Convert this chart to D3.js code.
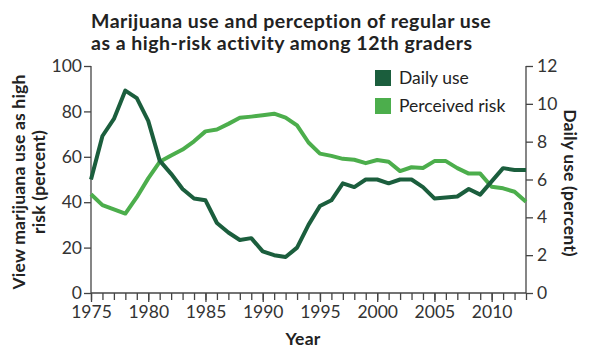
<!DOCTYPE html>
<html lang="en">
  <head>
    <meta charset="UTF-8" />
    <title>Marijuana use and perception</title>
    <script src="https://cdnjs.cloudflare.com/ajax/libs/d3/7.8.5/d3.min.js"></script>
    <style>
      body {
        margin: 0;
        background: #fff;
        font-family: Lato, 'Open Sans', sans-serif;
      }
      .tick text {
        font: 17.5px Lato, sans-serif;
        fill: #333;
      }
      .domain,
      .tick line {
        stroke: #444;
        stroke-width: 1.3px;
      }
      .line {
        fill: none;
        stroke-width: 4px;
        stroke-linejoin: round;
      }
      .label {
        font: bold 17.5px Lato, sans-serif;
        letter-spacing: 0.2px;
        fill: #222;
      }
    </style>
  </head>
  <body>
    <svg width="600" height="353"></svg>
    <script>
      // Data
      const years = d3.range(1975, 2014);
      const dailyUse = [
        6.0, 8.3, 9.2, 10.7, 10.3, 9.1, 7.0, 6.3, 5.5, 5.0, 4.9, 3.7, 3.2, 2.8, 2.9, 2.2, 2.0,
        1.9, 2.4, 3.6, 4.6, 4.9, 5.8, 5.6, 6.0, 6.0, 5.8, 6.0, 6.0, 5.6, 5.0, 5.05, 5.1, 5.5,
        5.2, 5.9, 6.6, 6.5, 6.5,
      ];
      const perceivedRisk = [
        43.5, 38.7, 36.8, 35.0, 42.2, 50.5, 57.8, 60.6, 63.2, 66.8, 71.2, 72.0, 74.5, 77.2, 77.7,
        78.3, 79.0, 77.3, 73.8, 66.3, 61.4, 60.4, 59.1, 58.7, 57.2, 58.6, 57.8, 53.7, 55.4, 55.1,
        58.1, 58.1, 55.0, 52.6, 52.6, 46.8, 46.1, 44.6, 40.2,
      ];
      const leftTicks = [0, 20, 40, 60, 80, 100];
      const rightTicks = [0, 2, 4, 6, 8, 10, 12];
      const xTicks = [1975, 1980, 1985, 1990, 1995, 2000, 2005, 2010];

      const darkGreen = '#1b5e3d';
      const lightGreen = '#4cae4c';

      const svg = d3.select('svg');
      const plotLeft = 91,
        plotRight = 526,
        plotTop = 66,
        plotBottom = 293;

      const x = d3.scaleLinear().domain([1975, 2013]).range([plotLeft, plotRight]);
      const yL = d3.scaleLinear().domain([0, 100]).range([plotBottom, plotTop]);
      const yR = d3.scaleLinear().domain([0, 12]).range([plotBottom, plotTop]);

      // Title
      const title = svg
        .append('text')
        .attr('class', 'label')
        .style('font-size', '19.5px')
        .style('letter-spacing', '0.5px');
      title.append('tspan').attr('x', 91).attr('y', 28).text('Marijuana use and perception of regular use');
      title.append('tspan').attr('x', 91).attr('y', 50).text('as a high-risk activity among 12th graders');

      // Axes
      svg
        .append('g')
        .attr('transform', `translate(${plotLeft},0)`)
        .call(d3.axisLeft(yL).tickValues(leftTicks).tickSize(7).tickPadding(2))
        .call(g => g.select('.domain').attr('d', `M0,${plotTop}V${plotBottom}`));

      svg
        .append('g')
        .attr('transform', `translate(${plotRight},0)`)
        .call(d3.axisRight(yR).tickValues(rightTicks).tickSize(7).tickPadding(4))
        .call(g => g.select('.domain').attr('d', `M0,${plotTop}V${plotBottom}`));

      // Minor year ticks then major ticks with labels
      const xAxis = svg.append('g').attr('transform', `translate(0,${plotBottom})`);
      xAxis
        .append('g')
        .call(d3.axisBottom(x).tickValues(years).tickSize(7).tickFormat(''))
        .call(g => g.select('.domain').attr('d', `M${plotLeft},0H${plotRight}`));
      xAxis
        .append('g')
        .call(d3.axisBottom(x).tickValues(xTicks).tickSize(9).tickPadding(4).tickFormat(d3.format('d')))
        .call(g => g.select('.domain').remove());

      // Lines
      const riskLine = d3
        .line()
        .x((d, i) => x(years[i]))
        .y(d => yL(d));
      const useLine = d3
        .line()
        .x((d, i) => x(years[i]))
        .y(d => yR(d));

      svg.append('path').attr('class', 'line').attr('stroke', lightGreen).attr('d', riskLine(perceivedRisk));
      svg.append('path').attr('class', 'line').attr('stroke', darkGreen).attr('d', useLine(dailyUse));

      // Axis titles
      svg.append('text').attr('class', 'label').attr('x', 303).attr('y', 345).attr('text-anchor', 'middle').text('Year');

      const yLabel = svg
        .append('text')
        .attr('class', 'label')
        .attr('text-anchor', 'middle')
        .attr('transform', 'translate(0,182) rotate(-90)');
      yLabel.append('tspan').attr('x', 0).attr('y', 25).text('View marijuana use as high');
      yLabel.append('tspan').attr('x', 0).attr('y', 45).text('risk (percent)');

      svg
        .append('text')
        .attr('class', 'label')
        .attr('text-anchor', 'middle')
        .attr('transform', 'translate(564,183) rotate(90)')
        .text('Daily use (percent)');

      // Legend
      const legend = svg.append('g').attr('transform', 'translate(375,70)');
      const items = [
        { name: 'Daily use', color: darkGreen },
        { name: 'Perceived risk', color: lightGreen },
      ];
      items.forEach((it, i) => {
        const row = legend.append('g').attr('transform', `translate(0,${i * 28})`);
        row.append('rect').attr('width', 16).attr('height', 16).attr('fill', it.color);
        row
          .append('text')
          .attr('x', 24)
          .attr('y', 14)
          .style('font', '17.5px Lato, sans-serif')
          .style('fill', '#222')
          .text(it.name);
      });
    </script>
  </body>
</html>
